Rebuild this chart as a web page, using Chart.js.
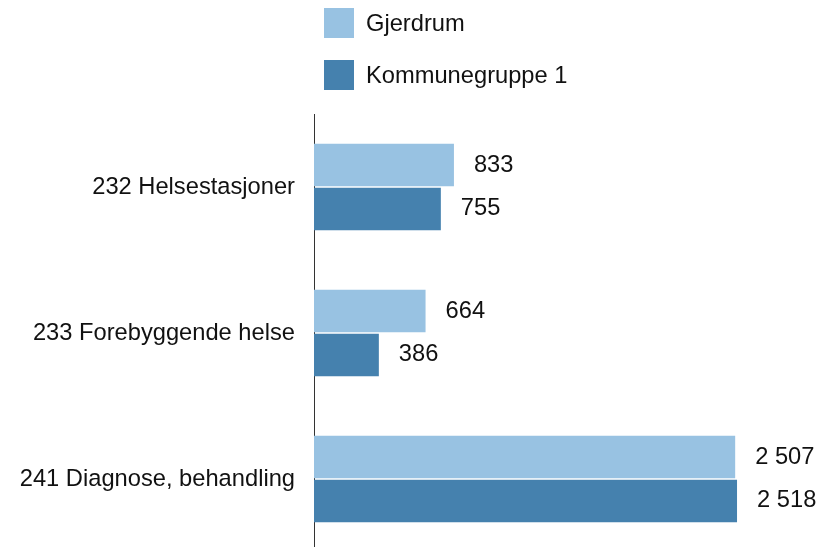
<!DOCTYPE html>
<html lang="no">
<head>
    <meta charset="UTF-8">
    <title>Helse</title>
    <script src="https://cdn.jsdelivr.net/npm/chart.js@4"></script>
    <style>
        * {
            margin: 0;
            padding: 0;
        }
        body {
            background: #fff;
            font-family: "Liberation Sans", Arial, sans-serif;
        }
        #wrap {
            position: relative;
            width: 822px;
            height: 547px;
            overflow: hidden;
        }
        #legend {
            position: absolute;
            left: 324px;
            top: 8px;
        }
        .item {
            height: 30px;
            margin-bottom: 22px;
            font-size: 23.7px;
            line-height: 31px;
            color: #111;
        }
        .box {
            display: inline-block;
            width: 30px;
            height: 30px;
            vertical-align: top;
            margin-right: 12px;
        }
    </style>
</head>
<body>
<div id="wrap">
    <!-- a little taller than the window: the axis runs off the bottom edge in the original -->
    <canvas id="myChart" width="822" height="552"></canvas>
    <div id="legend"></div>
</div>
<script>
    var categories = ["232 Helsestasjoner", "233 Forebyggende helse", "241 Diagnose, behandling"];
    var seriesNames = ["Gjerdrum", "Kommunegruppe 1"];
    var gjerdrum = [833, 664, 2507];
    var kommunegruppe = [755, 386, 2518];
    var colors = ["#98c2e2", "#4581ae"];
    var fontFam = "'Liberation Sans', Arial, sans-serif";

    function fmt(v) {
        return String(v).replace(/\B(?=(\d{3})+(?!\d))/g, " ");
    }

    // legend stacked vertically, like the original
    var legend = document.getElementById("legend");
    for (var i = 0; i < seriesNames.length; i++) {
        var d = document.createElement("div");
        d.className = "item";
        d.innerHTML = '<span class="box" style="background:' + colors[i] + '"></span>' + seriesNames[i];
        legend.appendChild(d);
    }

    var valueLabels = {
        id: "valueLabels",
        afterDatasetsDraw: function (chart) {
            var ctx = chart.ctx;
            ctx.save();
            ctx.font = "23.7px " + fontFam;
            ctx.fillStyle = "#111";
            ctx.textAlign = "left";
            ctx.textBaseline = "middle";
            chart.data.datasets.forEach(function (ds, di) {
                chart.getDatasetMeta(di).data.forEach(function (bar, j) {
                    ctx.fillText(fmt(ds.data[j]), bar.x + 20, bar.y);
                });
            });
            ctx.restore();
        }
    };

    var ctx = document.getElementById('myChart').getContext("2d");
    var myChart = new Chart(ctx, {
        type: 'bar',
        data: {
            labels: categories,
            datasets: [{
                label: seriesNames[0],
                backgroundColor: colors[0],
                data: gjerdrum,
                categoryPercentage: 0.6,
                barPercentage: 0.97
            }, {
                label: seriesNames[1],
                backgroundColor: colors[1],
                data: kommunegruppe,
                categoryPercentage: 0.6,
                barPercentage: 0.97
            }]
        },
        options: {
            indexAxis: 'y',
            responsive: false,
            animation: false,
            layout: {padding: {top: 114, right: 4, bottom: 0, left: 0}},
            plugins: {
                legend: {display: false},
                tooltip: {enabled: false}
            },
            scales: {
                x: {
                    display: false,
                    min: 0,
                    max: 3000
                },
                y: {
                    grid: {display: false, drawTicks: false},
                    border: {display: true, color: "#333", width: 1},
                    ticks: {
                        padding: 19,
                        color: "#111",
                        font: {family: fontFam, size: 23.7}
                    },
                    afterFit: function (scale) {
                        scale.width = 314;
                        scale.paddingTop = 0;
                        scale.paddingBottom = 0;
                    }
                }
            }
        },
        plugins: [valueLabels]
    });
</script>
</body>
</html>
